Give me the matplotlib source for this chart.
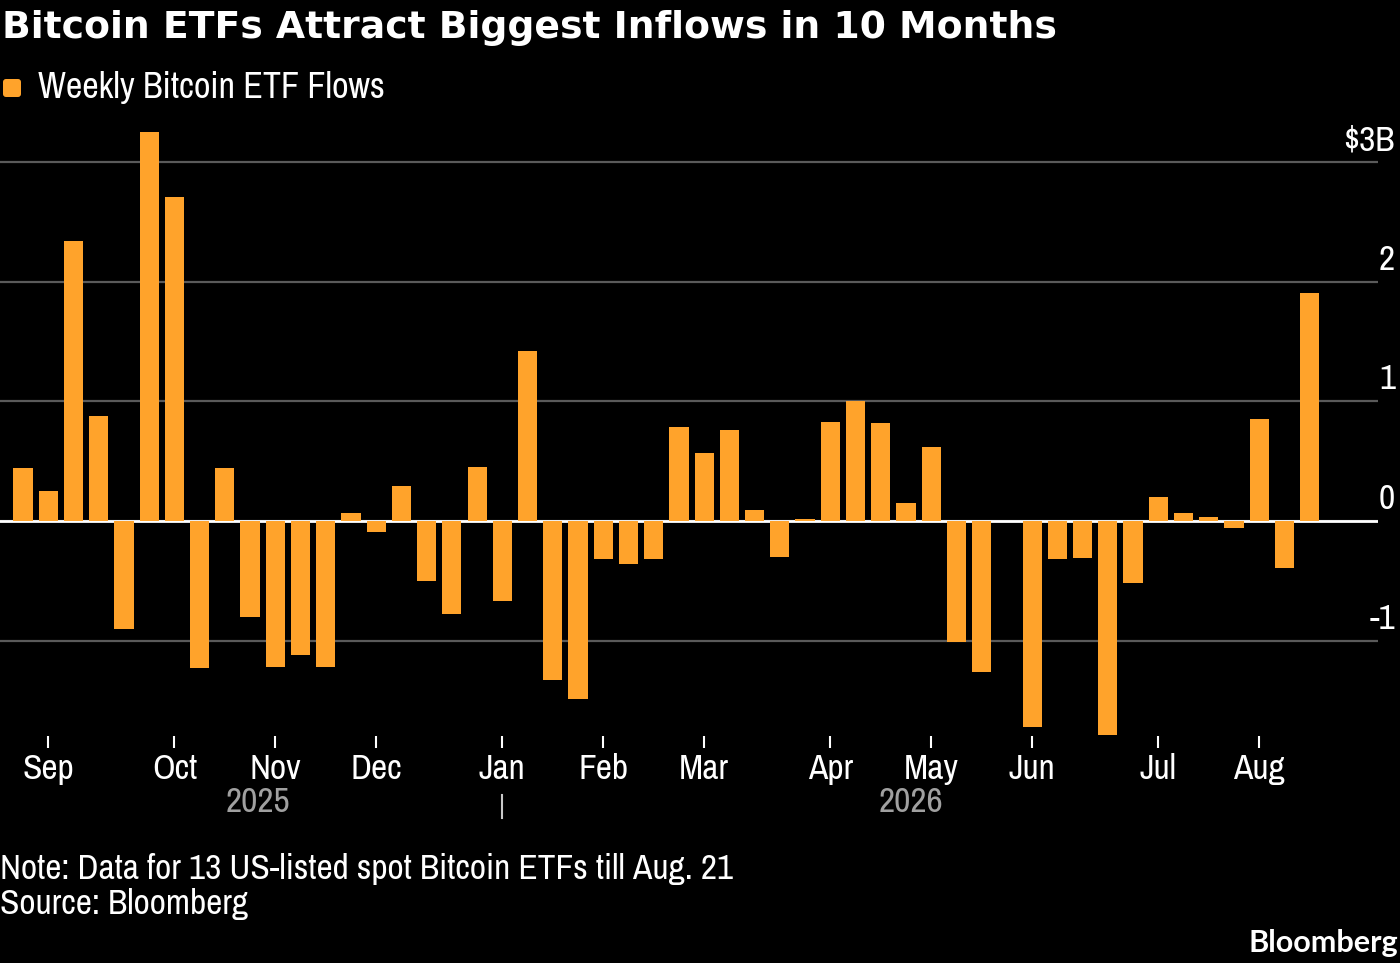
import matplotlib
matplotlib.use("Agg")
import matplotlib.pyplot as plt
import matplotlib.transforms as mtransforms
from matplotlib.patches import FancyBboxPatch
from matplotlib.lines import Line2D
from matplotlib import font_manager
import numpy as np
import pandas as pd

# ---------------- data ----------------
week_start = pd.date_range("2025-08-25", periods=52, freq="W-MON")
flows = [0.44, 0.25, 2.34, 0.88, -0.90, 3.25, 2.71, -1.23, 0.44, -0.80,
         -1.22, -1.12, -1.22, 0.07, -0.09, 0.29, -0.50, -0.78, 0.45, -0.67,
         1.42, -1.33, -1.49, -0.32, -0.36, -0.32, 0.79, 0.57, 0.76, 0.09,
         -0.30, 0.02, 0.83, 1.00, 0.82, 0.15, 0.62, -1.01, -1.26, 0.00,
         -1.72, -0.32, -0.31, -1.79, -0.52, 0.20, 0.07, 0.03, -0.06, 0.85,
         -0.39, 1.91]
series_label = "Weekly Bitcoin ETF Flows"
ytick_values = [-1, 0, 1, 2, 3]
ytick_labels = ["-1", "0", "1", "2", "$3B"]
title_text = "Bitcoin ETFs Attract Biggest Inflows in 10 Months"
note_text = "Note: Data for 13 US-listed spot Bitcoin ETFs till Aug. 21"
source_text = "Source: Bloomberg"
brand_text = "Bloomberg"

# ---------------- style ----------------
ORANGE = "#FFA32B"
GRID = "#5a5a5a"
YEAR_GREY = "#a0a0a0"
W, H, DPI = 1400, 963, 100

ttf = font_manager.fontManager.ttflist
names = {f.name for f in ttf}
narrow = sorted({f.name for f in ttf if ("Narrow" in f.name or "Condensed" in f.name)})
BODY_STRETCH = "normal"
if "Liberation Sans Narrow" in names:
    BODY = ["Liberation Sans Narrow", "DejaVu Sans"]
elif narrow:
    BODY = [narrow[0], "DejaVu Sans"]
else:
    BODY = ["DejaVu Sans"]
    if any(f.name == "DejaVu Sans" and f.stretch not in ("normal", 500) for f in ttf):
        BODY_STRETCH = "condensed"
TITLE_FONT = ["DejaVu Sans"]
BRAND_FONT = ["Lato", "DejaVu Sans"] if "Lato" in names else ["DejaVu Sans"]

fig = plt.figure(figsize=(W / DPI, H / DPI), dpi=DPI, facecolor="black")
renderer = fig.canvas.get_renderer()


def fx(px):
    return px / W


def fy(py):
    return 1 - py / H


def fit_width(t, target_px):
    bb = t.get_window_extent(renderer)
    t.set_fontsize(t.get_fontsize() * target_px / bb.width)
    return t.get_fontsize()


def body_text(*args, **kw):
    kw.setdefault("family", BODY)
    kw.setdefault("fontstretch", BODY_STRETCH)
    return fig.text(*args, **kw)


# axes: y from -1.8 (px 736.3) to 3.3 (px 126.3); x covers px 0..1378
ax_top, ax_bot = 126.3, 736.3
ax = fig.add_axes([0, fy(ax_bot), 1378 / W, (ax_bot - ax_top) / H])
ax.set_facecolor("black")
x = np.arange(len(flows))
bar_w = 0.76
ax.bar(x, flows, width=bar_w, color=ORANGE, zorder=3, label=series_label)
ax.set_xlim(-0.912, 53.71)
ax.set_ylim(-1.8, 3.3)
for s in ax.spines.values():
    s.set_visible(False)

ax.set_yticks(ytick_values)
ax.tick_params(axis="y", length=0, labelleft=False, labelright=False)
ax.grid(axis="y", color=GRID, lw=1.6, zorder=1)
ax.set_axisbelow(True)
ax.axhline(0, color="white", lw=2, zorder=2)

# month ticks at first week of each month
months = week_start.month
tick_idx = [i for i in range(1, len(week_start)) if months[i] != months[i - 1]]
tick_labels = [week_start[i].strftime("%b") for i in tick_idx]
ax.set_xticks(tick_idx)
ax.set_xticklabels([])
ax.tick_params(axis="x", length=12 * 72 / DPI, width=1.5, color="white", direction="out")

# body font size from the note line
note = body_text(fx(0), fy(879), note_text, color="white", fontsize=20, va="baseline", ha="left")
fs_body = fit_width(note, 733)
body_text(fx(0), fy(914), source_text, color="white", fontsize=fs_body, va="baseline", ha="left")

# month labels
trans_xd = mtransforms.blended_transform_factory(ax.transData, fig.transFigure)
for i, lab in zip(tick_idx, tick_labels):
    body_text(i, fy(779), lab, transform=trans_xd, ha="center", va="baseline",
              color="white", fontsize=fs_body)

# year labels
years = week_start.year
year_break = [i for i in range(1, len(week_start)) if years[i] != years[i - 1]]
edges = [x[0] - bar_w / 2] + year_break + [x[-1] + bar_w / 2]
year_names = [str(y) for y in sorted(set(years))]
for k, yname in enumerate(year_names):
    cx = (edges[k] + edges[k + 1]) / 2
    body_text(cx, fy(812), yname, transform=trans_xd, ha="center", va="baseline",
              color=YEAR_GREY, fontsize=fs_body)
for b in year_break:
    fig.add_artist(Line2D([b, b], [fy(795), fy(818)], transform=trans_xd,
                          color="#c8c8c8", lw=1.5))

# y labels (right side, above gridlines)
trans_fy = mtransforms.blended_transform_factory(fig.transFigure, ax.transData)
off = mtransforms.offset_copy(trans_fy, fig=fig, x=0, y=12, units="dots")
for v, lab in zip(ytick_values, ytick_labels):
    body_text(fx(1395), v, lab, transform=off, ha="right", va="baseline",
              color="white", fontsize=fs_body)

# title
title = fig.text(fx(2), fy(38), title_text, color="white", family=TITLE_FONT,
                 weight="bold", fontsize=26, va="baseline", ha="left")
fit_width(title, 1058)

# legend
fig.add_artist(FancyBboxPatch((3, H - 97), 18, 18, boxstyle="round,pad=0,rounding_size=3",
                              transform=mtransforms.IdentityTransform(),
                              facecolor=ORANGE, edgecolor="none"))
leg = body_text(fx(38), fy(98), series_label, color="white",
                fontsize=fs_body, va="baseline", ha="left")
fit_width(leg, 347)

# brand
brand = fig.text(fx(1398), fy(952), brand_text, color="white", family=BRAND_FONT,
                 weight="bold", fontsize=18, va="baseline", ha="right")
fit_width(brand, 150)

fig.savefig("out.png", dpi=DPI, facecolor="black")
